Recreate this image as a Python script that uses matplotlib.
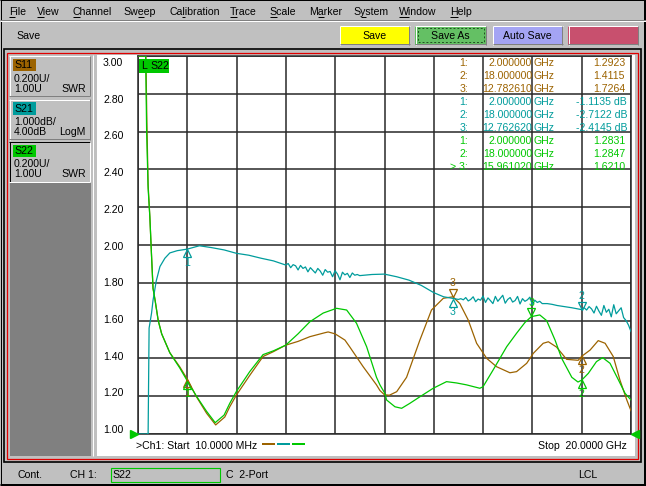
import numpy as np
import matplotlib
matplotlib.use("Agg")
import matplotlib.pyplot as plt
from matplotlib.patches import Rectangle
from matplotlib import transforms
from matplotlib.font_manager import FontProperties

plt.rcParams['font.family'] = ['Liberation Sans', 'DejaVu Sans']
FS = 7.6

BROWN = '#9C6300'
TEAL = '#009C9C'
GREEN = '#00C800'
GRAY = '#C0C0C0'
DARK = '#808080'

# ---- traces (GHz / SWR / dB) ----
s11_f = [0.01, 0.30, 0.33, 0.37, 0.42, 0.49, 0.56, 0.62, 0.70, 0.83,
         0.97, 1.30, 1.70, 2.00, 2.38, 2.79, 3.16, 3.53, 3.73, 4.00,
         4.54, 5.08, 5.49, 6.00, 6.50, 6.98, 7.59, 7.72, 8.00, 8.40,
         8.60, 9.14, 9.68, 9.82, 10.00, 10.20, 10.50, 10.90, 11.44, 11.91,
         12.39, 12.78, 13.06, 13.40, 13.74, 14.15, 14.55, 15.09, 15.36, 15.77,
         16.04, 16.44, 16.65, 16.98, 17.39, 17.86, 18.00, 18.34, 18.67, 18.95,
         19.28, 19.55, 19.83, 20.00]
s11_swr = [9.0, 9.0, 3.3, 2.65, 2.32, 2.15, 1.94, 1.77, 1.71, 1.60,
           1.53, 1.43, 1.356, 1.292, 1.197, 1.11, 1.048, 1.09, 1.144, 1.206,
           1.31, 1.41, 1.435, 1.47, 1.49, 1.515, 1.536, 1.54, 1.53, 1.497,
           1.46, 1.356, 1.26, 1.23, 1.208, 1.205, 1.224, 1.30, 1.497, 1.656,
           1.718, 1.726, 1.69, 1.603, 1.48, 1.40, 1.356, 1.324, 1.33, 1.374,
           1.427, 1.48, 1.488, 1.46, 1.395, 1.39, 1.411, 1.444, 1.494, 1.48,
           1.41, 1.286, 1.18, 1.123]

s22_f = [0.01, 0.30, 0.32, 0.36, 0.42, 0.49, 0.56, 0.62, 0.70, 0.83,
         0.97, 1.30, 1.70, 2.00, 2.38, 2.79, 3.14, 3.50, 3.73, 4.00,
         4.54, 5.08, 5.50, 6.00, 6.50, 6.98, 7.52, 8.06, 8.47, 8.87,
         9.28, 9.68, 9.82, 10.02, 10.09, 10.43, 10.70, 11.03, 11.44, 11.98,
         12.52, 12.93, 13.33, 13.87, 14.00, 14.41, 14.96, 15.36, 15.70, 15.96,
         16.30, 16.58, 16.92, 17.19, 17.60, 17.85, 18.00, 18.27, 18.60, 18.85,
         19.15, 19.49, 19.76, 20.00]
s22_swr = [9.0, 9.0, 3.2, 2.6, 2.3, 2.15, 1.94, 1.77, 1.71, 1.60,
           1.53, 1.43, 1.35, 1.283, 1.20, 1.12, 1.06, 1.10, 1.162, 1.225,
           1.33, 1.42, 1.44, 1.47, 1.53, 1.594, 1.64, 1.665, 1.656, 1.586,
           1.462, 1.30, 1.26, 1.215, 1.18, 1.144, 1.136, 1.162, 1.197, 1.242,
           1.277, 1.27, 1.26, 1.242, 1.25, 1.339, 1.462, 1.533, 1.59, 1.621,
           1.63, 1.60, 1.497, 1.40, 1.30, 1.275, 1.285, 1.321, 1.383, 1.404,
           1.374, 1.286, 1.215, 1.18]

s21_f = [0.01, 0.41, 0.42, 0.46, 0.56, 0.62, 0.75, 0.90, 1.10, 1.30,
         1.60, 2.00, 2.50, 3.00, 3.50, 4.00, 4.50, 5.00, 5.50,
         6.0, 6.1, 6.2, 6.3, 6.4, 6.5, 6.6, 6.7, 6.8, 6.9,
         7.0, 7.1, 7.2, 7.3, 7.4, 7.5, 7.6, 7.7, 7.8, 7.9,
         8.0, 8.1, 8.2, 8.3, 8.4, 8.5, 8.6, 8.7, 8.8, 8.9, 9.0,
         9.5, 10.0, 10.5, 11.0, 11.5, 12.0, 12.4, 12.76, 13.0,
         13.1, 13.2, 13.3, 13.4, 13.5, 13.6, 13.7, 13.8, 13.9, 14.0,
         14.1, 14.2, 14.3, 14.4, 14.5, 14.6, 14.7, 14.8, 14.9, 15.0,
         15.1, 15.2, 15.3, 15.4, 15.5, 15.6, 15.7, 15.8, 15.9, 16.0,
         16.1, 16.2, 16.3, 16.4,
         16.6, 16.8, 17.0, 17.3, 17.6, 18.0,
         18.1, 18.2, 18.3, 18.4, 18.5, 18.6, 18.7, 18.8, 18.9, 19.0,
         19.1, 19.2, 19.3, 19.4, 19.5, 19.6, 19.7, 19.8, 19.9, 20.0]
s21_db = [-30, -30, -6.0, -3.2, -2.8, -2.46, -1.95, -1.57, -1.35, -1.21,
          -1.15, -1.11, -1.02, -1.07, -1.13, -1.22, -1.27, -1.35, -1.42,
          -1.53, -1.49, -1.60, -1.52, -1.55, -1.66, -1.54, -1.62, -1.58, -1.71,
          -1.60, -1.67, -1.74, -1.62, -1.69, -1.80, -1.65, -1.72, -1.70, -1.84,
          -1.68, -1.77, -1.92, -1.72, -1.79, -1.75, -1.86, -1.74, -1.80, -1.78, -1.81,
          -1.78, -1.77, -1.84, -1.93, -2.07, -2.26, -2.37, -2.41, -2.44,
          -2.42, -2.45, -2.39, -2.48, -2.44, -2.37, -2.50, -2.43, -2.46, -2.35,
          -2.52, -2.40, -2.47, -2.55, -2.36, -2.49, -2.41, -2.33, -2.54, -2.44,
          -2.39, -2.51, -2.47, -2.36, -2.56, -2.42, -2.49, -2.45, -2.38, -2.58,
          -2.46, -2.52, -2.49, -2.55,
          -2.55, -2.57, -2.60, -2.63, -2.66, -2.71,
          -2.66, -2.72, -2.63, -2.69, -2.80, -2.62, -2.75, -2.86, -2.60, -2.78,
          -2.70, -2.90, -2.58, -2.82, -2.74, -2.66, -2.92, -3.00, -3.12, -3.29]

# ---- markers ----
s11_mk_f = [2.0, 18.0, 12.78261]
s11_mk_v = [1.2923, 1.4115, 1.7264]
s21_mk_f = [2.0, 18.0, 12.76262]
s21_mk_v = [-1.1135, -2.7122, -2.4145]
s22_mk_f = [2.0, 18.0, 15.96102]
s22_mk_v = [1.2831, 1.2847, 1.6210]
s11_mk_above = [False, False, True]
s21_mk_above = [False, True, False]
s22_mk_above = [False, False, True]

swr_ticks = [1.00, 1.20, 1.40, 1.60, 1.80, 2.00, 2.20, 2.40, 2.60, 2.80, 3.00]
menu_items = ['File', 'View', 'Channel', 'Sweep', 'Calibration', 'Trace',
              'Scale', 'Marker', 'System', 'Window', 'Help']
menu_x = [9, 37, 72.5, 123.5, 169, 230, 269.5, 309, 353.5, 399, 450]
menu_ul = [0, 0, 0, 2, 2, 0, 0, 1, 1, 0, 0]

fig = plt.figure(figsize=(6.46, 4.86), dpi=100, facecolor=GRAY)
bg = fig.add_axes([0, 0, 1, 1])
bg.set_xlim(0, 646)
bg.set_ylim(486, 0)
bg.axis('off')


def rect(x0, y0, x1, y1, fc, ec='none', lw=0.0, ls='-', fill=True):
    bg.add_patch(Rectangle((x0, y0), x1 - x0, y1 - y0, facecolor=fc if fill else 'none',
                           edgecolor=ec, linewidth=lw, linestyle=ls))


def line(xs, ys, c, lw=1.0):
    bg.plot(xs, ys, color=c, lw=lw * 0.72, solid_capstyle='butt')


def bevel(x0, y0, x1, y1, raised=True):
    tl, br = ('white', DARK) if raised else ('black', 'white')
    line([x0, x1], [y0 + 0.5, y0 + 0.5], tl)
    line([x0 + 0.5, x0 + 0.5], [y0, y1], tl)
    line([x0, x1], [y1 - 0.5, y1 - 0.5], br)
    line([x1 - 0.5, x1 - 0.5], [y0, y1], br)


def txt(x, y, s, ha='left', c='black', fs=FS, target=None, **kw):
    (target or bg).text(x, y, s, ha=ha, va='center', color=c, fontsize=fs,
                        transform=bg.transData, **kw)


# window border
line([0, 646], [0.5, 0.5], 'black')
line([0, 646], [484.5, 484.5], 'black', 3)
line([644.5, 644.5], [0, 486], 'black', 3)
line([0.5, 0.5], [0, 486], 'black')

# menu bar
fig.canvas.draw()
rend = fig.canvas.get_renderer()
fp = FontProperties(family='Liberation Sans', size=FS)
for name, x, k in zip(menu_items, menu_x, menu_ul):
    txt(x, 12, name)
    w0 = rend.get_text_width_height_descent(name[:k], fp, ismath=False)[0] if k else 0
    w1 = rend.get_text_width_height_descent(name[k], fp, ismath=False)[0]
    line([x + w0, x + w0 + w1], [17.5, 17.5], 'black')
line([0, 646], [20.5, 20.5], DARK)
line([0, 646], [21.5, 21.5], 'white')

# toolbar
txt(16, 36, 'Save')
buttons = [('Save', 339.5, 409.5, '#FFFF00'), ('Save As', 415, 486, '#64C064'),
           ('Auto Save', 492.5, 562.5, '#A4A4F4'), ('', 568, 638, '#C8506E')]
for label, x0, x1, fc in buttons:
    rect(x0, 26, x1, 45, fc)
    bevel(x0, 26, x1, 45, True)
    if label:
        txt((x0 + x1) / 2, 36, label, ha='center')
rect(417.5, 28.5, 483.5, 42.5, 'none', ec='#205020', lw=0.7, ls=(0, (2, 2)), fill=False)

# chart frame
rect(3.5, 49.5, 641, 462, 'none', ec='black', lw=1.2, fill=False)
rect(6.7, 52.6, 637.6, 459.3, 'none', ec='#E00000', lw=0.9, fill=False)

# channel panel
rect(10, 182, 91, 455.5, DARK)
line([92.5, 92.5], [55, 455.5], 'white')
rect(96.7, 55, 634.5, 455.5, 'white')
boxes = [('S11', BROWN, 56, ['0.200U/', '1.00U'], 'SWR', True),
         ('S21', TEAL, 99.3, ['1.000dB/', '4.00dB'], 'LogM', True),
         ('S22', GREEN, 141.7, ['0.200U/', '1.00U'], 'SWR', False)]
for name, col, y0, lines_, fmt, raised in boxes:
    rect(9.3, y0, 90, y0 + 40.5, GRAY)
    bevel(9.3, y0, 90, y0 + 40.5, raised)
    rect(13.3, y0 + 3, 35.7, y0 + 15.5, col)
    txt(14, y0 + 9.5, name)
    txt(14, y0 + 22.5, lines_[0])
    txt(14, y0 + 32.5, lines_[1])
    txt(86, y0 + 32.5, fmt, ha='right')

# status bar
txt(17, 475, 'Cont.')
txt(70, 475, 'CH 1:')
rect(111, 467.8, 220, 481.5, 'none', ec=GREEN, lw=0.8, fill=False)
txt(112, 475, 'S22')
txt(226, 475, 'C  2-Port')
txt(578, 475, 'LCL')

# footer inside plot panel
txt(135.5, 445.5, '>Ch1: Start  10.0000 MHz')
for i, c in enumerate([BROWN, TEAL, GREEN]):
    line([262 + 15 * i, 274.5 + 15 * i], [444, 444], c, 2)
txt(627, 445.5, 'Stop  20.0000 GHz', ha='right')

# ---- plot ----
ax = fig.add_axes([138 / 646, (486 - 434) / 486, 493 / 646, 378 / 486])
ax.set_zorder(2)
ax.set_xlim(0.01, 20)
ax.set_ylim(1.0, 3.0)
ax.set_xticks(np.linspace(0.01, 20, 11))
ax.set_yticks(swr_ticks)
ax.tick_params(length=0, labelbottom=False, labelleft=False)
ax.grid(True, color='#282828', lw=1.1)
for sp in ax.spines.values():
    sp.set_color('#282828')
    sp.set_linewidth(1.1)

# S21 uses its own scale: 1 dB/div, ref 4 dB at top
tr21 = transforms.Affine2D().scale(1, 0.2).translate(0, 2.2) + ax.transData

ax.plot(s11_f, np.clip(s11_swr, 1.0, 3.0), color=BROWN, lw=0.9, zorder=3)
ax.plot(s21_f, np.clip(s21_db, -6.0, 4.0), color=TEAL, lw=0.9, zorder=3, transform=tr21)
ax.plot(s22_f, np.clip(s22_swr, 1.0, 3.0), color=GREEN, lw=0.9, zorder=3)

# y labels, spread a little inside the grid as on the instrument
ylab_tr = transforms.blended_transform_factory(bg.transData, ax.transData)
for i, v in enumerate(swr_ticks):
    d = -4 + 1.1 * i
    ax.text(103, v, f'{v:.2f}', ha='left', va='center', fontsize=FS, clip_on=False,
            transform=ylab_tr + transforms.ScaledTranslation(0, -d / 100, fig.dpi_scale_trans))


def markers(fs_, vs_, above, color, tr):
    for k, (f, v, up) in enumerate(zip(fs_, vs_, above)):
        s = 1 if up else -1
        ax.plot([f], [v], marker='v' if up else '^', ms=6, mfc='none', mec=color, mew=0.9,
                zorder=4, transform=transforms.offset_copy(tr, fig=fig, x=0, y=4.2 * s, units='dots'))
        ax.text(f, v, str(k + 1), color=color, fontsize=FS, ha='center', va='center', zorder=4,
                transform=transforms.offset_copy(tr, fig=fig, x=0, y=14 * s, units='dots'))


markers(s11_mk_f, s11_mk_v, s11_mk_above, BROWN, ax.transData)
markers(s21_mk_f, s21_mk_v, s21_mk_above, TEAL, tr21)
markers(s22_mk_f, s22_mk_v, s22_mk_above, GREEN, ax.transData)

# reference level arrows
ax.plot([0.01], [1.0], marker='>', ms=6, color=GREEN, clip_on=False, zorder=5,
        transform=transforms.offset_copy(ax.transData, fig=fig, x=-4, y=0, units='dots'))
ax.plot([20], [1.0], marker='<', ms=6, color=GREEN, clip_on=False, zorder=5,
        transform=transforms.offset_copy(ax.transData, fig=fig, x=4, y=0, units='dots'))

# active trace label
ax.add_patch(Rectangle((139.3, 59), 30, 13.7, transform=bg.transData, facecolor=GREEN,
                       edgecolor='none', zorder=5, clip_on=False))
txt(141, 66, 'L', target=ax, zorder=6)
txt(150, 66, 'S22', target=ax, zorder=6)

# marker readout table
rows = []
for fs_, vs_, col, unit, active in [(s11_mk_f, s11_mk_v, BROWN, '', None),
                                    (s21_mk_f, s21_mk_v, TEAL, ' dB', None),
                                    (s22_mk_f, s22_mk_v, GREEN, '', 2)]:
    for k, (f, v) in enumerate(zip(fs_, vs_)):
        lab = f'> {k + 1}:' if active == k else f'{k + 1}:'
        rows.append((lab, f'{f:.6f}', f'{v:.4f}{unit}', col))
for r, (lab, fstr, vstr, col) in enumerate(rows):
    y = 63 + 13.05 * r
    txt(468, y, lab, ha='right', c=col, target=ax, zorder=6)
    txt(532, y, fstr, ha='right', c=col, target=ax, zorder=6)
    txt(534, y, 'GHz', c=col, target=ax, zorder=6)
    txt(627 if vstr.endswith('dB') else 625, y, vstr, ha='right', c=col, target=ax, zorder=6)

fig.savefig('out.png', dpi=100, facecolor=fig.get_facecolor())
